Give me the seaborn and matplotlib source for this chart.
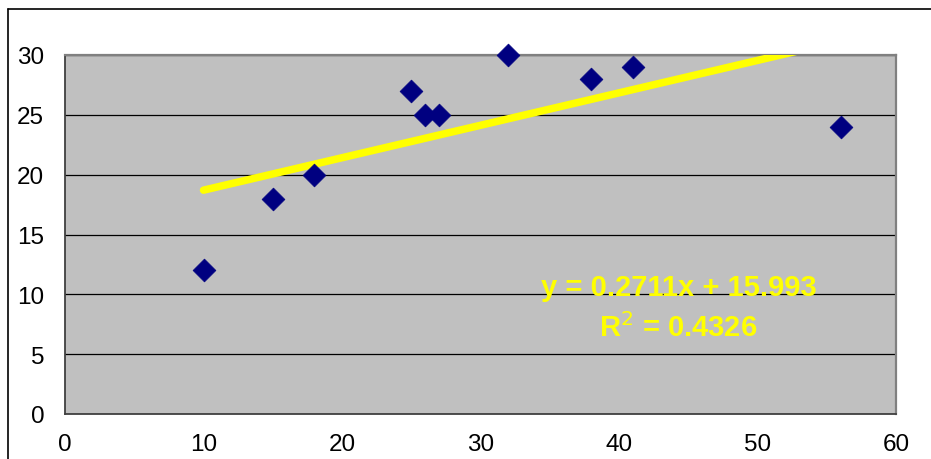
import matplotlib
matplotlib.use("Agg")
import matplotlib.pyplot as plt
from matplotlib.lines import Line2D
import seaborn as sns
import pandas as pd

x_vals = [10, 15, 18, 25, 26, 27, 32, 38, 41, 56]
y_vals = [12, 18, 20, 27, 25, 25, 30, 28, 29, 24]
x_ticks = [0, 10, 20, 30, 40, 50, 60]
y_ticks = [0, 5, 10, 15, 20, 25, 30]
eq_text = "y = 0.2711x + 15.993"
r2_text = "R$^2$ = 0.4326"

df = pd.DataFrame({"x": x_vals, "y": y_vals})

sns.set_style("white")
plt.rcParams["font.family"] = ["Liberation Sans", "DejaVu Sans"]

W, H = 931, 460
fig = plt.figure(figsize=(W / 100, H / 100), dpi=100)
ax = fig.add_axes([65 / W, (H - 415) / H, (896 - 65) / W, (415 - 56) / H])
ax.set_facecolor("#C0C0C0")

ax.set_xlim(0, 60)
ax.set_ylim(0, 30)
ax.set_xticks(x_ticks)
ax.set_yticks(y_ticks)
ax.yaxis.grid(True, color="black", linewidth=0.9)
ax.xaxis.grid(False)
ax.set_axisbelow(True)

sns.regplot(data=df, x="x", y="y", ax=ax, scatter=False, ci=None, truncate=True,
            line_kws=dict(color="#FFFF00", linewidth=5.4, solid_capstyle="round", zorder=3))
sns.scatterplot(data=df, x="x", y="y", ax=ax, marker="D", s=135, color="#000080",
                edgecolor="#000080", linewidth=0.5, zorder=4, clip_on=False)

ax.set_xlim(0, 60)
ax.set_ylim(0, 30)
ax.set_xlabel("")
ax.set_ylabel("")

for s in ["top", "right"]:
    ax.spines[s].set_color("#808080")
    ax.spines[s].set_linewidth(1.6)
for s in ["left", "bottom"]:
    ax.spines[s].set_color("#404040")
    ax.spines[s].set_linewidth(1.3)

ax.tick_params(axis="both", which="both", direction="out", length=5, width=1,
               color="#404040", labelsize=17.5, labelcolor="black")
ax.tick_params(axis="y", pad=10)
ax.tick_params(axis="x", pad=9)

ax.text(44.3, 10.6, eq_text, color="#FFFF00", fontsize=21, fontweight="bold",
        ha="center", va="center", zorder=5)
ax.text(44.3, 7.3, r2_text, color="#FFFF00", fontsize=21, fontweight="bold",
        ha="center", va="center", zorder=5)

fig.add_artist(Line2D([8 / W, 8 / W], [0, (H - 10) / H], color="black", linewidth=1.2,
                      transform=fig.transFigure))
fig.add_artist(Line2D([8 / W, 1], [(H - 10) / H, (H - 10) / H], color="black", linewidth=1.2,
                      transform=fig.transFigure))

fig.savefig("out.png", dpi=100)
